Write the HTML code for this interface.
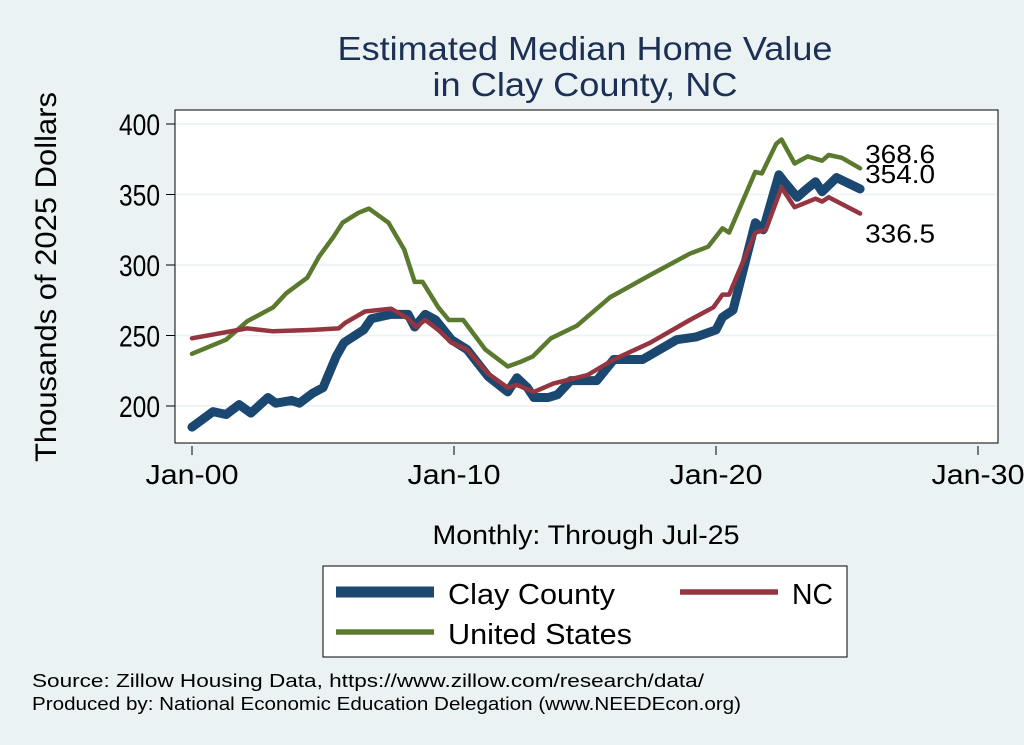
<!DOCTYPE html>
<html><head><meta charset="utf-8"><style>
body{margin:0;width:1024px;height:745px;background:#eaf2f3;font-family:"Liberation Sans",sans-serif;overflow:hidden}
svg{display:block}
</style></head><body>
<svg width="1024" height="745">
<rect x="0" y="0" width="1024" height="745" fill="#eaf2f3"/>
<text x="585" y="60" text-anchor="middle" font-size="33" textLength="495" lengthAdjust="spacingAndGlyphs" fill="#1c2f55">Estimated Median Home Value</text>
<text x="585" y="96" text-anchor="middle" font-size="33" textLength="305" lengthAdjust="spacingAndGlyphs" fill="#1c2f55">in Clay County, NC</text>
<rect x="175" y="110" width="823" height="333" fill="#fff" stroke="#000" stroke-width="1"/>
<g id="grid"></g>
<g id="series"></g>
<g id="axes"></g>
<text transform="translate(56,277) rotate(-90)" text-anchor="middle" font-size="30" textLength="370" lengthAdjust="spacingAndGlyphs" fill="#000">Thousands of 2025 Dollars</text>
<text x="586" y="544" text-anchor="middle" font-size="27" textLength="307" lengthAdjust="spacingAndGlyphs" fill="#000">Monthly: Through Jul-25</text>
<g>
<rect x="323" y="566" width="524" height="91" fill="#fff" stroke="#000" stroke-width="1"/>
<line x1="336" y1="592" x2="434" y2="592" stroke="#1b4870" stroke-width="11"/>
<text x="448" y="604" font-size="29" textLength="167" lengthAdjust="spacingAndGlyphs">Clay County</text>
<line x1="680" y1="592" x2="778" y2="592" stroke="#953540" stroke-width="5.5"/>
<text x="792" y="604" font-size="29" textLength="41" lengthAdjust="spacingAndGlyphs">NC</text>
<line x1="336" y1="632" x2="434" y2="632" stroke="#5a7a2e" stroke-width="5.5"/>
<text x="448" y="644" font-size="29" textLength="184" lengthAdjust="spacingAndGlyphs">United States</text>
</g>
<text x="32" y="687" font-size="18" textLength="672" lengthAdjust="spacingAndGlyphs">Source: Zillow Housing Data, https://www.zillow.com/research/data/</text>
<text x="32" y="710" font-size="18" textLength="709" lengthAdjust="spacingAndGlyphs">Produced by: National Economic Education Delegation (www.NEEDEcon.org)</text>
</svg>
<script>
const yTicks=[200,250,300,350,400];
const xTickYears=[0,10,20,30];
const xTickLabels=["Jan-00","Jan-10","Jan-20","Jan-30"];
const usT=[0,1.3,2.1,3.1,3.6,4.4,4.85,5.4,5.75,6.35,6.75,7.5,8.1,8.5,8.8,9.4,9.8,10.35,11.2,12.05,12.5,13.0,13.7,14.7,15.95,17.5,19.0,19.7,20.25,20.5,21.5,21.75,22.3,22.5,23.0,23.5,24.05,24.3,24.8,25.5];
const usV=[237,247,260,270,280,291,306,320,330,337,340,330,311,288,288,270,261,261,240,228,231,235,248,257,277,293,308,313,326,323,366,365,386,389,372,377,374,378,376,368.6];
const ncT=[0,2.1,3.1,4.6,5.6,5.85,6.6,7.6,8.25,8.55,8.9,9.4,9.9,10.5,11.3,12.05,12.4,13.05,13.8,15.1,16.1,17.5,19.0,19.9,20.25,20.5,21.5,21.9,22.5,23.0,23.8,24.05,24.3,25.5];
const ncV=[248,255,253,254,255,259,267,269,262,256,261,254,245,240,223,213,215,210,216,222,233,245,261,270,279,279,323,325,355,341,347,345,348,336.5];
const clayT=[0,0.8,1.3,1.8,2.25,2.9,3.2,3.8,4.1,4.6,5.0,5.5,5.8,6.55,6.85,7.6,8.25,8.5,8.9,9.3,9.9,10.5,11.3,12.05,12.4,12.8,13.05,13.6,13.95,14.45,15.45,16.1,17.2,18.5,19.25,20.0,20.25,20.65,21.5,21.8,22.4,22.65,23.1,23.4,23.8,24.05,24.6,25.5];
const clayV=[185,196,194,201,195,206,202,204,202,209,213,235,245,254,262,265,265,256,265,261,247,240,221,210,220,213,206,206,208,218,218,233,233,247,249,254,263,268,330,325,364,358,348,353,359,352,362,354];
const endLabels=["368.6","354.0","336.5"];
const NS="http://www.w3.org/2000/svg";
function xS(t){return 192+t*26.2;}
function yS(v){return 406-(v-200)*1.41;}
function mk(tag,attrs,parent){const e=document.createElementNS(NS,tag);for(const k in attrs)e.setAttribute(k,attrs[k]);parent.appendChild(e);return e;}
const grid=document.getElementById('grid'),axes=document.getElementById('axes'),ser=document.getElementById('series');
yTicks.forEach(v=>{
  const g=mk('line',{x1:176,x2:997,y1:yS(v),y2:yS(v),stroke:'#eaf2f3','stroke-width':1.5},grid);
  
  
  const t=mk('line',{x1:166,x2:175,y1:yS(v),y2:yS(v),stroke:'#000'},axes);
  
  
  const l=mk('text',{x:160,y:yS(v)+11,'text-anchor':'end','font-size':30,textLength:41,lengthAdjust:'spacingAndGlyphs'},axes);
  l.textContent=v;
  
  
});
xTickYears.forEach((yr,i)=>{
  const t=mk('line',{x1:xS(yr),x2:xS(yr),y1:446,y2:455,stroke:'#000'},axes);
  
  
  const l=mk('text',{x:xS(yr),y:484,'text-anchor':'middle','font-size':28,textLength:93,lengthAdjust:'spacingAndGlyphs'},axes);
  l.textContent=xTickLabels[i];
  
  
});
function line(T,V,color,w,name){
  const d=T.map((t,i)=>(i?'L':'M')+xS(t).toFixed(1)+','+yS(V[i]).toFixed(1)).join('');
  const p=mk('path',{d:d,fill:'none',stroke:color,'stroke-width':w,'stroke-linejoin':'round','stroke-linecap':'round'},ser);
  
  
}
line(clayT,clayV,'#1b4870',9,'series-clay-county');
line(usT,usV,'#5a7a2e',4.5,'series-united-states');
line(ncT,ncV,'#953540',4.5,'series-nc');
const ends=[[usT,usV,-5.5],[clayT,clayV,-6],[ncT,ncV,29]];
ends.forEach((e,i)=>{
  const T=e[0],V=e[1];
  const l=mk('text',{x:xS(T[T.length-1])+5,y:yS(V[V.length-1])+e[2],'font-size':26,textLength:70,lengthAdjust:'spacingAndGlyphs'},ser);
  l.textContent=endLabels[i];
  
  
});
</script>
</body></html>
